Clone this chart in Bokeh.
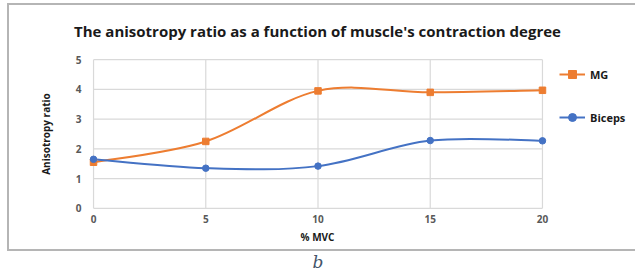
from bokeh.plotting import figure
from bokeh.models import Legend, LegendItem, FixedTicker, Range1d, Div
from bokeh.layouts import column
from bokeh.embed import file_html
from bokeh.resources import INLINE

mvc = [0, 5, 10, 15, 20]
mg = [1.55, 2.25, 3.95, 3.90, 3.97]
biceps = [1.65, 1.35, 1.42, 2.28, 2.27]
x_ticks = [0, 5, 10, 15, 20]
y_ticks = [0, 1, 2, 3, 4, 5]

ORANGE = "#ED7D31"
BLUE = "#4472C4"
FONT = "Open Sans"


def smooth(xs, ys):
    """Catmull-Rom style Bezier segments (Excel 'smoothed line')."""
    n = len(xs)
    out = dict(x0=[], y0=[], x1=[], y1=[], cx0=[], cy0=[], cx1=[], cy1=[])
    for i in range(n - 1):
        p0 = (xs[max(i - 1, 0)], ys[max(i - 1, 0)])
        p1 = (xs[i], ys[i])
        p2 = (xs[i + 1], ys[i + 1])
        p3 = (xs[min(i + 2, n - 1)], ys[min(i + 2, n - 1)])
        out["x0"].append(p1[0]); out["y0"].append(p1[1])
        out["x1"].append(p2[0]); out["y1"].append(p2[1])
        out["cx0"].append(p1[0] + (p2[0] - p0[0]) / 6)
        out["cy0"].append(p1[1] + (p2[1] - p0[1]) / 6)
        out["cx1"].append(p2[0] - (p3[0] - p1[0]) / 6)
        out["cy1"].append(p2[1] - (p3[1] - p1[1]) / 6)
    return out


CW, CH = 620, 244
FL, FR, FT, FB = 77, 537, 48, 205
X0P, X20P, Y5P, Y0P = 84, 531, 54, 199
px_x = (X20P - X0P) / 20.0
px_y = (Y0P - Y5P) / 5.0
xr0 = -(X0P - FL) / px_x
xr1 = 20 + (FR - X20P) / px_x
yr0 = -(FB - Y0P) / px_y
yr1 = 5 + (Y5P - FT) / px_y

p = figure(frame_width=FR - FL, frame_height=FB - FT,
           output_backend="svg", toolbar_location=None,
           x_range=Range1d(xr0, xr1), y_range=Range1d(yr0, yr1),
           min_border_left=FL, min_border_right=CW - FR,
           min_border_top=FT, min_border_bottom=CH - FB,
           title="The anisotropy ratio as a function of muscle's contraction degree")
p.outline_line_color = None
p.background_fill_color = "white"
p.border_fill_color = "white"
p.margin = (3, 0, 0, 7)
p.styles = {"border-top": "2px solid #b5b5b5",
            "border-left": "2px solid #b5b5b5",
            "border-bottom": "2px solid #b5b5b5"}

p.title.align = "center"
p.title.text_font = FONT
p.title.text_font_size = "15px"
p.title.text_font_style = "bold"
p.title.text_color = "#1a1a1a"
p.title.standoff = 26

p.xgrid.visible = False
p.ygrid.visible = False
p.segment(x0=x_ticks, y0=[min(y_ticks)] * len(x_ticks), x1=x_ticks,
          y1=[max(y_ticks)] * len(x_ticks), line_color="#d9d9d9", line_width=1.2)
p.segment(x0=[min(x_ticks)] * len(y_ticks), y0=y_ticks,
          x1=[max(x_ticks)] * len(y_ticks), y1=y_ticks,
          line_color="#d9d9d9", line_width=1.2)

for ax in (p.xaxis[0], p.yaxis[0]):
    ax.axis_line_color = None
    ax.major_tick_line_color = None
    ax.minor_tick_line_color = None
    ax.major_tick_out = 0
    ax.major_tick_in = 0
    ax.minor_tick_out = 0
    ax.major_label_text_font = FONT
    ax.major_label_text_font_size = "10px"
    ax.major_label_text_color = "#595959"
    ax.major_label_text_font_style = "bold"
    ax.axis_label_text_font = FONT
    ax.axis_label_text_font_size = "10px"
    ax.axis_label_text_font_style = "bold"
    ax.axis_label_text_color = "#1a1a1a"

p.xaxis.ticker = FixedTicker(ticks=x_ticks)
p.yaxis.ticker = FixedTicker(ticks=y_ticks)
p.xaxis.axis_label = "% MVC"
p.yaxis.axis_label = "Anisotropy ratio"
p.xaxis.major_label_standoff = 0
p.xaxis.axis_label_standoff = 4
p.yaxis.major_label_standoff = 5
p.yaxis.axis_label_standoff = 20

s_mg = smooth(mvc, mg)
s_bi = smooth(mvc, biceps)
b1 = p.bezier(source=s_mg, x0="x0", y0="y0", x1="x1", y1="y1",
              cx0="cx0", cy0="cy0", cx1="cx1", cy1="cy1",
              line_color=ORANGE, line_width=2)
b2 = p.bezier(source=s_bi, x0="x0", y0="y0", x1="x1", y1="y1",
              cx0="cx0", cy0="cy0", cx1="cx1", cy1="cy1",
              line_color=BLUE, line_width=2)
m1 = p.scatter(mvc, mg, marker="square", size=6.5, color=ORANGE)
m2 = p.scatter(mvc, biceps, marker="circle", size=6.5, color=BLUE)

legend = Legend(items=[LegendItem(label="MG", renderers=[b1, m1]),
                       LegendItem(label="Biceps", renderers=[b2, m2])],
                location="top_left")
legend.border_line_color = None
legend.background_fill_alpha = 0
legend.padding = 0
legend.margin = 11
legend.spacing = 23
legend.glyph_width = 26
legend.label_standoff = 5
legend.label_text_font = FONT
legend.label_text_font_size = "11px"
legend.label_text_font_style = "bold"
legend.label_text_color = "#1a1a1a"
p.add_layout(legend, "right")

cap = Div(text="b", width=622, height=22, margin=(0, 0, 0, 7),
          styles={"text-align": "center", "font-family": "DejaVu Serif",
                  "font-style": "italic", "font-size": "17px",
                  "color": "#44546a", "line-height": "22px"})

layout = column(p, cap, spacing=0)
open("out.html", "w").write(file_html(layout, INLINE))
